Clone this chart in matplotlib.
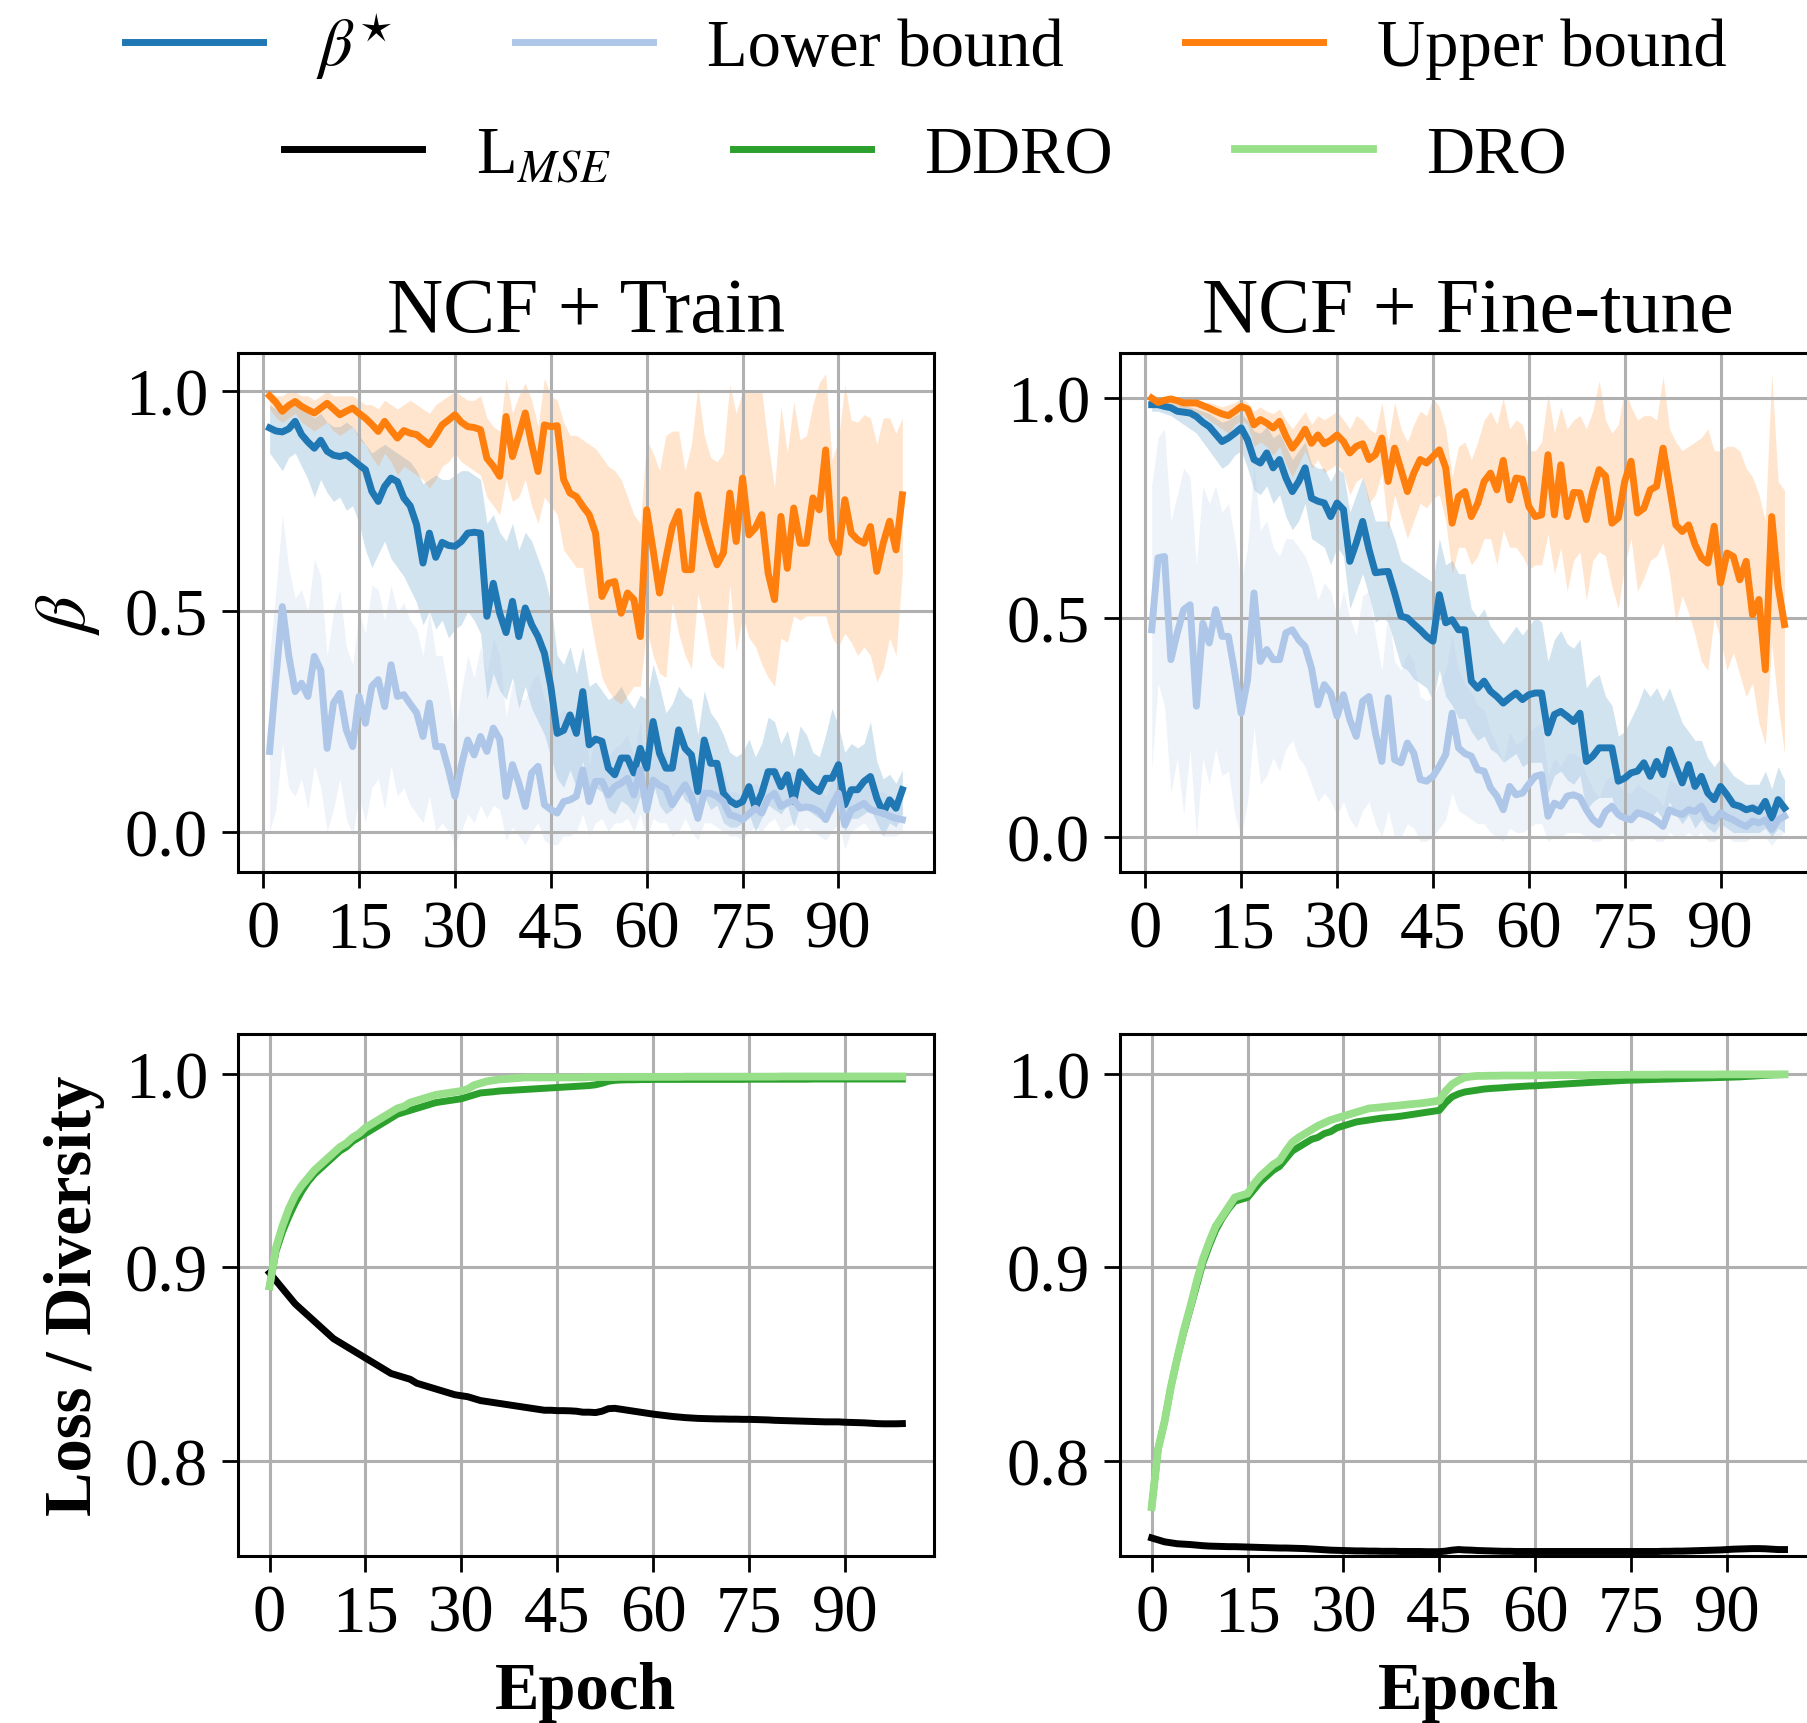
import numpy as np
import matplotlib
matplotlib.use("Agg")
import matplotlib.pyplot as plt

plt.rcParams['font.family'] = ['Liberation Serif', 'DejaVu Serif']
plt.rcParams['mathtext.fontset'] = 'stix'

# ---------------- data ----------------
epochs_top = np.arange(1, 101)
epochs_bot = np.arange(0, 100)

# NCF + Train, beta* / lower bound / upper bound (mean, band low, band high)
tl_beta = [0.917, 0.910, 0.908, 0.915, 0.932, 0.902, 0.885, 0.871, 0.889, 0.864,
           0.855, 0.852, 0.856, 0.845, 0.833, 0.822, 0.773, 0.750, 0.784, 0.803,
           0.795, 0.758, 0.740, 0.697, 0.610, 0.678, 0.623, 0.657, 0.650, 0.648,
           0.659, 0.678, 0.680, 0.678, 0.489, 0.564, 0.496, 0.452, 0.523, 0.443,
           0.508, 0.470, 0.443, 0.405, 0.330, 0.223, 0.230, 0.265, 0.223, 0.318,
           0.197, 0.210, 0.205, 0.144, 0.129, 0.167, 0.167, 0.133, 0.189, 0.144,
           0.250, 0.178, 0.144, 0.144, 0.231, 0.189, 0.174, 0.091, 0.208, 0.155,
           0.155, 0.087, 0.070, 0.061, 0.068, 0.102, 0.053, 0.087, 0.136, 0.136,
           0.102, 0.129, 0.068, 0.136, 0.117, 0.100, 0.091, 0.121, 0.121, 0.152,
           0.061, 0.095, 0.095, 0.114, 0.125, 0.076, 0.042, 0.072, 0.053, 0.095]
tl_beta_lo = [0.86, 0.84, 0.82, 0.85, 0.86, 0.83, 0.80, 0.76, 0.80, 0.77,
              0.75, 0.76, 0.73, 0.74, 0.70, 0.64, 0.60, 0.63, 0.66, 0.62,
              0.60, 0.58, 0.55, 0.52, 0.47, 0.50, 0.46, 0.48, 0.44, 0.46,
              0.47, 0.50, 0.48, 0.45, 0.30, 0.36, 0.32, 0.30, 0.35, 0.28,
              0.33, 0.28, 0.25, 0.22, 0.17, 0.12, 0.10, 0.14, 0.10, 0.16,
              0.08, 0.10, 0.09, 0.05, 0.04, 0.07, 0.06, 0.04, 0.08, 0.05,
              0.11, 0.06, 0.04, 0.05, 0.10, 0.07, 0.06, 0.02, 0.08, 0.05,
              0.06, 0.02, 0.01, 0.01, 0.02, 0.04, 0.00, 0.03, 0.06, 0.05,
              0.04, 0.06, 0.01, 0.06, 0.05, 0.04, 0.03, 0.05, 0.04, 0.07,
              0.00, 0.03, 0.03, 0.04, 0.05, 0.02, -0.01, 0.02, 0.01, 0.04]
tl_beta_hi = [0.97, 0.96, 0.97, 0.97, 0.98, 0.96, 0.95, 0.94, 0.95, 0.93,
              0.92, 0.92, 0.93, 0.92, 0.90, 0.88, 0.86, 0.87, 0.88, 0.87,
              0.86, 0.85, 0.84, 0.82, 0.79, 0.80, 0.81, 0.80, 0.80, 0.81,
              0.82, 0.82, 0.81, 0.80, 0.70, 0.72, 0.68, 0.66, 0.70, 0.64,
              0.68, 0.66, 0.62, 0.58, 0.52, 0.40, 0.38, 0.42, 0.36, 0.42,
              0.33, 0.34, 0.32, 0.30, 0.31, 0.33, 0.30, 0.28, 0.31, 0.30,
              0.38, 0.33, 0.27, 0.29, 0.33, 0.31, 0.30, 0.22, 0.32, 0.27,
              0.25, 0.22, 0.18, 0.17, 0.18, 0.21, 0.17, 0.20, 0.26, 0.25,
              0.20, 0.23, 0.17, 0.24, 0.22, 0.18, 0.17, 0.22, 0.28, 0.24,
              0.18, 0.20, 0.19, 0.20, 0.25, 0.16, 0.12, 0.13, 0.11, 0.14]

tl_low = [0.182, 0.350, 0.511, 0.400, 0.318, 0.337, 0.307, 0.398, 0.367, 0.189,
          0.292, 0.314, 0.231, 0.193, 0.307, 0.246, 0.330, 0.345, 0.284, 0.379,
          0.307, 0.311, 0.290, 0.270, 0.216, 0.292, 0.193, 0.193, 0.140, 0.080,
          0.150, 0.208, 0.174, 0.216, 0.182, 0.235, 0.210, 0.080, 0.152, 0.110,
          0.057, 0.133, 0.148, 0.061, 0.050, 0.042, 0.068, 0.072, 0.080, 0.140,
          0.068, 0.114, 0.114, 0.083, 0.102, 0.110, 0.121, 0.083, 0.140, 0.049,
          0.117, 0.105, 0.098, 0.061, 0.085, 0.106, 0.080, 0.030, 0.087, 0.087,
          0.080, 0.068, 0.038, 0.034, 0.027, 0.040, 0.053, 0.042, 0.076, 0.087,
          0.057, 0.065, 0.072, 0.053, 0.056, 0.053, 0.045, 0.027, 0.060, 0.087,
          0.015, 0.049, 0.056, 0.064, 0.050, 0.045, 0.042, 0.035, 0.030, 0.027]
tl_low_lo = [0.00, 0.05, 0.20, 0.10, 0.08, 0.12, 0.05, 0.15, 0.10, 0.00,
             0.05, 0.12, 0.03, -0.01, 0.08, 0.02, 0.10, 0.12, 0.05, 0.15,
             0.08, 0.10, 0.06, 0.04, 0.02, 0.08, 0.00, 0.02, 0.00, -0.03,
             0.00, 0.04, 0.02, 0.06, 0.03, 0.06, 0.05, -0.02, 0.01, -0.01,
             -0.03, 0.00, 0.02, -0.02, -0.03, -0.03, -0.01, -0.01, 0.00, 0.04,
             -0.01, 0.02, 0.03, 0.00, 0.02, 0.02, 0.03, 0.00, 0.04, -0.02,
             0.03, 0.02, 0.02, -0.01, 0.00, 0.03, 0.00, -0.02, 0.02, 0.02,
             0.01, 0.00, -0.01, -0.01, -0.02, 0.00, 0.01, 0.00, 0.02, 0.03,
             0.00, 0.01, 0.02, 0.00, 0.01, 0.00, -0.01, -0.02, 0.00, 0.02,
             -0.04, 0.00, 0.01, 0.02, 0.00, 0.00, -0.01, -0.01, -0.01, 0.00]
tl_low_hi = [0.40, 0.55, 0.72, 0.60, 0.53, 0.55, 0.50, 0.62, 0.58, 0.40,
             0.50, 0.55, 0.42, 0.38, 0.50, 0.45, 0.56, 0.55, 0.48, 0.56,
             0.50, 0.52, 0.48, 0.46, 0.40, 0.50, 0.40, 0.40, 0.32, 0.22,
             0.32, 0.40, 0.35, 0.42, 0.36, 0.44, 0.40, 0.26, 0.34, 0.30,
             0.30, 0.34, 0.36, 0.30, 0.28, 0.26, 0.28, 0.26, 0.25, 0.30,
             0.15, 0.22, 0.21, 0.17, 0.19, 0.20, 0.22, 0.17, 0.25, 0.12,
             0.21, 0.19, 0.18, 0.14, 0.17, 0.19, 0.16, 0.09, 0.16, 0.16,
             0.15, 0.14, 0.09, 0.09, 0.08, 0.10, 0.11, 0.10, 0.14, 0.15,
             0.12, 0.13, 0.14, 0.11, 0.11, 0.11, 0.10, 0.08, 0.12, 0.16,
             0.06, 0.11, 0.11, 0.12, 0.10, 0.09, 0.09, 0.08, 0.07, 0.06]

tl_up = [0.990, 0.975, 0.955, 0.968, 0.977, 0.966, 0.958, 0.951, 0.962, 0.973,
         0.960, 0.947, 0.955, 0.962, 0.950, 0.939, 0.925, 0.909, 0.932, 0.912,
         0.894, 0.911, 0.905, 0.902, 0.890, 0.879, 0.900, 0.924, 0.935, 0.947,
         0.930, 0.920, 0.918, 0.913, 0.848, 0.830, 0.807, 0.943, 0.852, 0.900,
         0.951, 0.880, 0.818, 0.924, 0.920, 0.922, 0.800, 0.769, 0.761, 0.739,
         0.720, 0.678, 0.534, 0.564, 0.568, 0.496, 0.542, 0.527, 0.443, 0.731,
         0.640, 0.542, 0.620, 0.693, 0.727, 0.595, 0.595, 0.765, 0.700, 0.650,
         0.606, 0.633, 0.769, 0.659, 0.803, 0.674, 0.690, 0.720, 0.587, 0.527,
         0.716, 0.598, 0.735, 0.655, 0.655, 0.758, 0.731, 0.867, 0.663, 0.633,
         0.754, 0.678, 0.663, 0.655, 0.693, 0.591, 0.655, 0.705, 0.640, 0.765]
tl_up_lo = [0.96, 0.94, 0.93, 0.94, 0.95, 0.93, 0.92, 0.91, 0.92, 0.93,
            0.91, 0.90, 0.91, 0.92, 0.89, 0.88, 0.85, 0.83, 0.86, 0.84,
            0.81, 0.83, 0.82, 0.81, 0.80, 0.78, 0.80, 0.83, 0.84, 0.86,
            0.84, 0.83, 0.82, 0.81, 0.76, 0.74, 0.72, 0.80, 0.75, 0.76,
            0.80, 0.74, 0.70, 0.76, 0.74, 0.72, 0.64, 0.62, 0.60, 0.60,
            0.50, 0.42, 0.35, 0.32, 0.30, 0.29, 0.31, 0.33, 0.33, 0.46,
            0.40, 0.36, 0.35, 0.52, 0.45, 0.40, 0.37, 0.54, 0.48, 0.40,
            0.38, 0.37, 0.56, 0.41, 0.49, 0.44, 0.42, 0.38, 0.35, 0.33,
            0.44, 0.43, 0.49, 0.48, 0.49, 0.49, 0.49, 0.49, 0.44, 0.42,
            0.45, 0.43, 0.40, 0.42, 0.40, 0.34, 0.37, 0.44, 0.40, 0.59]
tl_up_hi = [1.00, 0.99, 0.99, 1.00, 1.00, 0.99, 0.99, 0.98, 0.99, 1.00,
            0.99, 0.99, 0.99, 0.99, 0.98, 0.97, 0.97, 0.96, 0.98, 0.97,
            0.96, 0.97, 0.98, 0.97, 0.96, 0.95, 0.97, 0.98, 0.99, 1.00,
            0.99, 0.98, 0.98, 0.99, 0.94, 0.92, 0.91, 1.03, 0.95, 0.99,
            1.02, 0.98, 0.92, 1.03, 0.99, 0.98, 0.93, 0.90, 0.90, 0.89,
            0.88, 0.87, 0.85, 0.83, 0.82, 0.80, 0.76, 0.72, 0.70, 0.89,
            0.86, 0.82, 0.90, 0.91, 0.91, 0.82, 0.88, 1.01, 0.90, 0.85,
            0.84, 0.86, 1.015, 0.95, 1.00, 1.00, 1.00, 1.00, 0.88, 0.78,
            0.966, 0.86, 0.977, 0.89, 0.90, 0.97, 1.02, 1.04, 0.845, 0.89,
            1.015, 0.935, 0.93, 0.947, 0.94, 0.88, 0.94, 0.94, 0.905, 0.94]

# NCF + Fine-tune
tr_beta = [0.985, 0.985, 0.981, 0.978, 0.970, 0.968, 0.966, 0.958, 0.945, 0.935,
           0.918, 0.901, 0.909, 0.920, 0.932, 0.905, 0.860, 0.852, 0.875, 0.841,
           0.860, 0.818, 0.787, 0.810, 0.841, 0.772, 0.765, 0.761, 0.730, 0.761,
           0.746, 0.628, 0.670, 0.719, 0.655, 0.602, 0.604, 0.605, 0.556, 0.503,
           0.499, 0.485, 0.472, 0.457, 0.446, 0.552, 0.488, 0.495, 0.472, 0.472,
           0.355, 0.339, 0.355, 0.332, 0.320, 0.305, 0.317, 0.328, 0.313, 0.324,
           0.328, 0.328, 0.237, 0.279, 0.286, 0.275, 0.263, 0.282, 0.172, 0.184,
           0.203, 0.203, 0.203, 0.127, 0.134, 0.146, 0.150, 0.169, 0.138, 0.172,
           0.142, 0.199, 0.161, 0.123, 0.165, 0.115, 0.138, 0.100, 0.085, 0.115,
           0.096, 0.074, 0.070, 0.062, 0.066, 0.058, 0.081, 0.043, 0.085, 0.066]
tr_beta_lo = [0.97, 0.97, 0.965, 0.96, 0.95, 0.94, 0.93, 0.92, 0.90, 0.88,
              0.86, 0.84, 0.85, 0.87, 0.88, 0.84, 0.79, 0.78, 0.80, 0.76,
              0.78, 0.73, 0.70, 0.72, 0.76, 0.68, 0.67, 0.66, 0.62, 0.66,
              0.64, 0.52, 0.56, 0.60, 0.55, 0.49, 0.50, 0.49, 0.44, 0.39,
              0.38, 0.36, 0.35, 0.34, 0.31, 0.38, 0.32, 0.30, 0.27, 0.27,
              0.24, 0.22, 0.23, 0.20, 0.19, 0.17, 0.18, 0.19, 0.16, 0.17,
              0.17, 0.17, 0.10, 0.14, 0.15, 0.13, 0.12, 0.14, 0.06, 0.08,
              0.09, 0.09, 0.09, 0.04, 0.04, 0.05, 0.05, 0.06, 0.04, 0.06,
              0.04, 0.08, 0.05, 0.03, 0.05, 0.02, 0.04, 0.02, 0.01, 0.03,
              0.02, 0.01, 0.01, 0.01, 0.01, 0.01, 0.02, 0.00, 0.02, 0.01]
tr_beta_hi = [0.995, 0.995, 0.99, 0.99, 0.985, 0.985, 0.98, 0.975, 0.97, 0.965,
              0.955, 0.945, 0.95, 0.96, 0.965, 0.95, 0.925, 0.92, 0.935, 0.91,
              0.92, 0.89, 0.86, 0.88, 0.90, 0.85, 0.84, 0.84, 0.81, 0.84,
              0.83, 0.74, 0.78, 0.82, 0.77, 0.72, 0.72, 0.72, 0.68, 0.63,
              0.62, 0.61, 0.60, 0.59, 0.58, 0.68, 0.62, 0.63, 0.60, 0.60,
              0.52, 0.50, 0.52, 0.48, 0.46, 0.44, 0.46, 0.48, 0.46, 0.48,
              0.50, 0.49, 0.40, 0.45, 0.47, 0.44, 0.43, 0.45, 0.34, 0.36,
              0.37, 0.32, 0.30, 0.23, 0.24, 0.27, 0.30, 0.34, 0.32, 0.34,
              0.31, 0.34, 0.30, 0.26, 0.24, 0.22, 0.22, 0.18, 0.16, 0.18,
              0.16, 0.14, 0.13, 0.12, 0.12, 0.12, 0.15, 0.11, 0.16, 0.13]

tr_low = [0.472, 0.636, 0.639, 0.404, 0.465, 0.518, 0.529, 0.298, 0.487, 0.442,
          0.518, 0.457, 0.457, 0.374, 0.282, 0.358, 0.556, 0.400, 0.427, 0.404,
          0.404, 0.465, 0.472, 0.449, 0.434, 0.385, 0.301, 0.347, 0.328, 0.275,
          0.324, 0.267, 0.229, 0.309, 0.320, 0.237, 0.172, 0.317, 0.176, 0.169,
          0.214, 0.191, 0.131, 0.127, 0.138, 0.161, 0.188, 0.282, 0.203, 0.190,
          0.184, 0.153, 0.150, 0.112, 0.093, 0.062, 0.115, 0.096, 0.100, 0.120,
          0.138, 0.142, 0.047, 0.077, 0.070, 0.093, 0.096, 0.090, 0.062, 0.040,
          0.028, 0.058, 0.070, 0.051, 0.043, 0.039, 0.055, 0.051, 0.045, 0.036,
          0.024, 0.062, 0.055, 0.051, 0.062, 0.058, 0.070, 0.043, 0.036, 0.055,
          0.045, 0.039, 0.030, 0.024, 0.036, 0.032, 0.039, 0.017, 0.039, 0.047]
tr_low_lo = [0.15, 0.35, 0.30, 0.10, 0.18, 0.05, 0.20, 0.00, 0.18, 0.12,
             0.20, 0.14, 0.15, 0.05, 0.00, 0.08, 0.25, 0.12, 0.14, 0.18,
             0.15, 0.20, 0.22, 0.18, 0.16, 0.12, 0.08, 0.10, 0.08, 0.05,
             0.08, 0.04, 0.02, 0.06, 0.08, 0.03, 0.00, 0.06, 0.00, 0.00,
             0.03, 0.02, -0.01, -0.01, 0.00, 0.02, 0.04, 0.10, 0.06, 0.05,
             0.04, 0.03, 0.03, 0.01, 0.00, -0.01, 0.02, 0.01, 0.01, 0.02,
             0.03, 0.03, -0.01, 0.00, 0.00, 0.01, 0.01, 0.01, 0.00, -0.01,
             -0.01, 0.00, 0.01, 0.00, 0.00, -0.01, 0.00, 0.00, 0.00, -0.01,
             -0.01, 0.01, 0.00, 0.00, 0.01, 0.00, 0.01, -0.01, -0.01, 0.00,
             0.00, -0.01, -0.01, -0.01, 0.00, 0.00, 0.00, -0.02, 0.00, 0.01]
tr_low_hi = [0.80, 0.91, 0.93, 0.72, 0.78, 0.84, 0.82, 0.62, 0.80, 0.76,
             0.80, 0.74, 0.76, 0.68, 0.58, 0.66, 0.85, 0.70, 0.72, 0.66,
             0.64, 0.68, 0.68, 0.66, 0.64, 0.60, 0.54, 0.58, 0.56, 0.50,
             0.56, 0.50, 0.46, 0.55, 0.56, 0.46, 0.38, 0.52, 0.40, 0.38,
             0.42, 0.40, 0.32, 0.31, 0.32, 0.35, 0.38, 0.46, 0.38, 0.35,
             0.33, 0.30, 0.29, 0.24, 0.21, 0.17, 0.24, 0.21, 0.22, 0.24,
             0.25, 0.26, 0.14, 0.18, 0.16, 0.19, 0.19, 0.18, 0.14, 0.11,
             0.09, 0.13, 0.14, 0.12, 0.10, 0.10, 0.12, 0.11, 0.10, 0.09,
             0.07, 0.13, 0.12, 0.11, 0.12, 0.12, 0.13, 0.10, 0.09, 0.11,
             0.10, 0.09, 0.08, 0.07, 0.08, 0.08, 0.09, 0.06, 0.09, 0.10]

tr_up = [1.000, 0.990, 0.995, 0.998, 0.994, 0.989, 0.989, 0.989, 0.983, 0.977,
         0.970, 0.964, 0.960, 0.970, 0.981, 0.975, 0.939, 0.951, 0.943, 0.932,
         0.947, 0.913, 0.886, 0.905, 0.929, 0.897, 0.916, 0.896, 0.904, 0.916,
         0.901, 0.875, 0.890, 0.896, 0.860, 0.871, 0.909, 0.810, 0.886, 0.837,
         0.787, 0.829, 0.860, 0.852, 0.867, 0.882, 0.841, 0.715, 0.776, 0.787,
         0.730, 0.760, 0.810, 0.829, 0.791, 0.858, 0.768, 0.818, 0.815, 0.753,
         0.730, 0.734, 0.871, 0.734, 0.848, 0.730, 0.785, 0.784, 0.723, 0.787,
         0.837, 0.822, 0.715, 0.727, 0.810, 0.856, 0.738, 0.749, 0.791, 0.799,
         0.886, 0.799, 0.711, 0.696, 0.711, 0.666, 0.636, 0.624, 0.708, 0.579,
         0.647, 0.639, 0.586, 0.628, 0.506, 0.541, 0.381, 0.730, 0.571, 0.484]
tr_up_lo = [0.99, 0.98, 0.98, 0.985, 0.98, 0.975, 0.97, 0.965, 0.96, 0.95,
            0.94, 0.93, 0.92, 0.94, 0.95, 0.94, 0.89, 0.90, 0.89, 0.87,
            0.89, 0.85, 0.82, 0.85, 0.88, 0.84, 0.86, 0.83, 0.84, 0.85,
            0.83, 0.78, 0.81, 0.82, 0.76, 0.78, 0.83, 0.70, 0.78, 0.73,
            0.68, 0.72, 0.76, 0.75, 0.77, 0.78, 0.72, 0.60, 0.66, 0.66,
            0.62, 0.64, 0.68, 0.68, 0.62, 0.70, 0.66, 0.66, 0.64, 0.61,
            0.62, 0.62, 0.69, 0.60, 0.66, 0.56, 0.63, 0.65, 0.54, 0.63,
            0.65, 0.64, 0.57, 0.52, 0.62, 0.68, 0.56, 0.59, 0.63, 0.64,
            0.67, 0.60, 0.49, 0.55, 0.51, 0.46, 0.40, 0.38, 0.50, 0.45,
            0.38, 0.42, 0.37, 0.32, 0.35, 0.26, 0.21, 0.44, 0.30, 0.19]
tr_up_hi = [1.005, 1.0, 1.0, 1.005, 1.0, 0.995, 0.995, 0.995, 0.99, 0.99,
            0.985, 0.98, 0.985, 0.99, 1.0, 0.99, 0.97, 0.98, 0.97, 0.965,
            0.975, 0.95, 0.93, 0.95, 0.97, 0.94, 0.96, 0.95, 0.96, 0.97,
            0.95, 0.93, 0.96, 0.95, 0.93, 0.92, 0.99, 0.90, 0.99, 0.93,
            0.90, 0.94, 0.97, 0.96, 1.0, 0.98, 0.93, 0.82, 0.89, 0.90,
            0.86, 0.90, 0.95, 0.97, 0.94, 1.00, 0.93, 0.95, 0.94, 0.88,
            0.88, 0.90, 1.01, 0.92, 0.98, 0.93, 0.95, 0.96, 0.93, 0.97,
            1.04, 0.95, 0.92, 0.94, 1.02, 0.98, 0.95, 0.96, 0.96, 0.95,
            1.05, 0.93, 0.90, 0.88, 0.89, 0.90, 0.91, 0.93, 0.88, 0.88,
            0.89, 0.89, 0.88, 0.84, 0.82, 0.78, 0.72, 1.057, 0.81, 0.79]

# Loss / diversity curves
bl_mse = [0.897, 0.893, 0.889, 0.885, 0.881, 0.878, 0.875, 0.872, 0.869, 0.866,
          0.863, 0.861, 0.859, 0.857, 0.855, 0.853, 0.851, 0.849, 0.847, 0.845,
          0.844, 0.843, 0.842, 0.840, 0.839, 0.838, 0.837, 0.836, 0.835, 0.834,
          0.8335, 0.833, 0.832, 0.831, 0.8305, 0.830, 0.8295, 0.829, 0.8285, 0.828,
          0.8275, 0.827, 0.8265, 0.826, 0.826, 0.8258, 0.8258, 0.8257, 0.8255, 0.825,
          0.825, 0.8248, 0.8255, 0.8268, 0.827, 0.8265, 0.826, 0.8255, 0.825, 0.8245,
          0.824, 0.8236, 0.8232, 0.8228, 0.8225, 0.8222, 0.822, 0.8218, 0.8217, 0.8216,
          0.8215, 0.8215, 0.8214, 0.8214, 0.8213, 0.8213, 0.8212, 0.8211, 0.821, 0.8208,
          0.8207, 0.8206, 0.8205, 0.8204, 0.8203, 0.8202, 0.8201, 0.820, 0.820, 0.820,
          0.8198, 0.8197, 0.8196, 0.8195, 0.8193, 0.8191, 0.819, 0.819, 0.819, 0.8191]
bl_ddro = [0.890, 0.908, 0.918, 0.926, 0.933, 0.939, 0.944, 0.948, 0.951, 0.954,
           0.957, 0.960, 0.962, 0.965, 0.967, 0.969, 0.971, 0.973, 0.975, 0.977,
           0.979, 0.980, 0.981, 0.982, 0.983, 0.984, 0.985, 0.9855, 0.986, 0.9865,
           0.987, 0.988, 0.989, 0.990, 0.9903, 0.9906, 0.991, 0.9912, 0.9914, 0.9916,
           0.9918, 0.992, 0.9922, 0.9924, 0.9926, 0.9928, 0.993, 0.9932, 0.9934, 0.9936,
           0.9938, 0.9942, 0.995, 0.996, 0.9965, 0.9967, 0.9968, 0.9968, 0.9969, 0.9969,
           0.997, 0.997, 0.997, 0.997, 0.997, 0.997, 0.997, 0.997, 0.997, 0.997,
           0.997, 0.997, 0.997, 0.997, 0.997, 0.9971, 0.9971, 0.9971, 0.9971, 0.9971,
           0.9971, 0.9971, 0.9971, 0.9971, 0.9971, 0.9972, 0.9972, 0.9972, 0.9972, 0.9972,
           0.9972, 0.9972, 0.9972, 0.9972, 0.9972, 0.9972, 0.9972, 0.9972, 0.9972, 0.9972]
bl_dro = [0.890, 0.910, 0.921, 0.930, 0.937, 0.942, 0.946, 0.950, 0.953, 0.956,
          0.959, 0.962, 0.964, 0.967, 0.969, 0.972, 0.974, 0.976, 0.978, 0.980,
          0.982, 0.983, 0.985, 0.986, 0.987, 0.988, 0.989, 0.9895, 0.990, 0.9905,
          0.991, 0.992, 0.994, 0.995, 0.996, 0.9965, 0.997, 0.9972, 0.9975, 0.9977,
          0.998, 0.998, 0.998, 0.998, 0.998, 0.998, 0.998, 0.998, 0.998, 0.998,
          0.9982, 0.9982, 0.9982, 0.9982, 0.9982, 0.9983, 0.9983, 0.9983, 0.9983, 0.9983,
          0.9983, 0.9983, 0.9983, 0.9983, 0.9983, 0.9984, 0.9984, 0.9984, 0.9984, 0.9984,
          0.9984, 0.9984, 0.9984, 0.9984, 0.9984, 0.9984, 0.9984, 0.9984, 0.9984, 0.9984,
          0.9985, 0.9985, 0.9985, 0.9985, 0.9985, 0.9985, 0.9985, 0.9985, 0.9985, 0.9985,
          0.9985, 0.9985, 0.9985, 0.9985, 0.9985, 0.9985, 0.9985, 0.9985, 0.9985, 0.9985]

br_mse = [0.760, 0.759, 0.758, 0.7575, 0.757, 0.7568, 0.7566, 0.7563, 0.756, 0.7558,
          0.7557, 0.7556, 0.7555, 0.7555, 0.7554, 0.7553, 0.7552, 0.7551, 0.755, 0.7549,
          0.7548, 0.7548, 0.7547, 0.7546, 0.7545, 0.7543, 0.7541, 0.7539, 0.7537, 0.7536,
          0.7535, 0.7534, 0.7533, 0.7533, 0.7532, 0.7532, 0.7531, 0.7531, 0.7531, 0.753,
          0.753, 0.753, 0.753, 0.7529, 0.7529, 0.7529, 0.7532, 0.7537, 0.754, 0.7538,
          0.7537, 0.7535, 0.7534, 0.7533, 0.7532, 0.7531, 0.7531, 0.753, 0.753, 0.753,
          0.753, 0.753, 0.753, 0.753, 0.753, 0.753, 0.753, 0.753, 0.753, 0.753,
          0.753, 0.753, 0.753, 0.753, 0.753, 0.753, 0.753, 0.753, 0.753, 0.753,
          0.7531, 0.7531, 0.7532, 0.7532, 0.7533, 0.7534, 0.7535, 0.7536, 0.7537, 0.7538,
          0.754, 0.7542, 0.7543, 0.7544, 0.7545, 0.7545, 0.7544, 0.7542, 0.754, 0.754]
br_ddro = [0.776, 0.806, 0.820, 0.838, 0.853, 0.866, 0.878, 0.890, 0.902, 0.911,
           0.919, 0.925, 0.930, 0.934, 0.935, 0.936, 0.940, 0.944, 0.947, 0.950,
           0.952, 0.956, 0.960, 0.962, 0.964, 0.966, 0.967, 0.969, 0.970, 0.972,
           0.973, 0.974, 0.975, 0.9755, 0.976, 0.9765, 0.977, 0.9773, 0.9776, 0.978,
           0.9785, 0.979, 0.9795, 0.980, 0.9805, 0.981, 0.985, 0.988, 0.9895, 0.9905,
           0.991, 0.9915, 0.992, 0.9923, 0.9925, 0.9927, 0.993, 0.9932, 0.9934, 0.9936,
           0.9937, 0.9939, 0.9941, 0.9943, 0.9945, 0.9947, 0.9949, 0.9951, 0.9953, 0.9955,
           0.9957, 0.9959, 0.9961, 0.9963, 0.9965, 0.9966, 0.9967, 0.9968, 0.9969, 0.997,
           0.9971, 0.9972, 0.9973, 0.9974, 0.9975, 0.9976, 0.9977, 0.9978, 0.9979, 0.998,
           0.9981, 0.9982, 0.9983, 0.9985, 0.9987, 0.9989, 0.9991, 0.9993, 0.9994, 0.9995]
br_dro = [0.776, 0.806, 0.820, 0.838, 0.853, 0.867, 0.879, 0.892, 0.904, 0.913,
          0.921, 0.926, 0.931, 0.936, 0.937, 0.938, 0.943, 0.947, 0.950, 0.953,
          0.955, 0.960, 0.9645, 0.967, 0.969, 0.971, 0.973, 0.9745, 0.976, 0.977,
          0.978, 0.979, 0.980, 0.981, 0.982, 0.9823, 0.9826, 0.983, 0.9833, 0.9836,
          0.984, 0.9843, 0.9846, 0.985, 0.9855, 0.986, 0.991, 0.9945, 0.9965, 0.998,
          0.9985, 0.9988, 0.9988, 0.9989, 0.9989, 0.999, 0.999, 0.999, 0.999, 0.999,
          0.9991, 0.9991, 0.9991, 0.9991, 0.9992, 0.9992, 0.9992, 0.9992, 0.9992, 0.9993,
          0.9993, 0.9993, 0.9993, 0.9993, 0.9994, 0.9994, 0.9994, 0.9994, 0.9994, 0.9994,
          0.9995, 0.9995, 0.9995, 0.9995, 0.9995, 0.9995, 0.9995, 0.9995, 0.9995, 0.9996,
          0.9996, 0.9996, 0.9996, 0.9996, 0.9996, 0.9996, 0.9996, 0.9996, 0.9996, 0.9996]

titles = ["NCF + Train", "NCF + Fine-tune"]
xticks = [0, 15, 30, 45, 60, 75, 90]

C_BETA = '#1f77b4'
C_LOW = '#aec7e8'
C_UP = '#ff7f0e'
C_DDRO = '#2ca02c'
C_DRO = '#98df8a'

# ---------------- figure ----------------
fig = plt.figure(figsize=(9.04, 8.62), dpi=200)
ax_tl = fig.add_axes([0.1316, 0.4936, 0.3850, 0.3010])
ax_tr = fig.add_axes([0.6195, 0.4936, 0.3850, 0.3010])
ax_bl = fig.add_axes([0.1316, 0.0969, 0.3850, 0.3028])
ax_br = fig.add_axes([0.6195, 0.0969, 0.3850, 0.3028])

LW = 2.5
top_sets = [
    (ax_tl, tl_beta, tl_beta_lo, tl_beta_hi, tl_low, tl_low_lo, tl_low_hi, tl_up, tl_up_lo, tl_up_hi),
    (ax_tr, tr_beta, tr_beta_lo, tr_beta_hi, tr_low, tr_low_lo, tr_low_hi, tr_up, tr_up_lo, tr_up_hi),
]
top_handles = []
for ax, b, blo, bhi, lo, lolo, lohi, up, uplo, uphi in top_sets:
    ax.fill_between(epochs_top, blo, bhi, color=C_BETA, alpha=0.2, lw=0)
    ax.fill_between(epochs_top, lolo, lohi, color=C_LOW, alpha=0.2, lw=0)
    ax.fill_between(epochs_top, uplo, uphi, color=C_UP, alpha=0.2, lw=0)
    h1, = ax.plot(epochs_top, b, color=C_BETA, lw=LW)
    h2, = ax.plot(epochs_top, lo, color=C_LOW, lw=LW)
    h3, = ax.plot(epochs_top, up, color=C_UP, lw=LW)
    top_handles = [h1, h2, h3]
    ax.set_xlim(-3.95, 104.95)

ax_tl.set_ylim(-0.092, 1.087)
ax_tr.set_ylim(-0.080, 1.1025)
for ax in (ax_tl, ax_tr):
    ax.set_yticks([0.0, 0.5, 1.0])

bot_handles = []
for ax, m, d1, d2 in [(ax_bl, bl_mse, bl_ddro, bl_dro), (ax_br, br_mse, br_ddro, br_dro)]:
    h1, = ax.plot(epochs_bot, m, color='black', lw=LW)
    h2, = ax.plot(epochs_bot, d1, color=C_DDRO, lw=LW)
    h3, = ax.plot(epochs_bot, d2, color=C_DRO, lw=LW + 0.3)
    bot_handles = [h1, h2, h3]
    ax.set_xlim(-4.95, 103.95)
    ax.set_ylim(0.7507, 1.0205)
    ax.set_yticks([0.8, 0.9, 1.0])
    ax.set_xlabel('Epoch', fontsize=24, fontweight='bold', labelpad=6)

for ax in (ax_tl, ax_tr, ax_bl, ax_br):
    ax.set_xticks(xticks)
    ax.grid(True, color='#b0b0b0', lw=1.1)
    ax.tick_params(direction='out', length=5.8, width=1.0, labelsize=24, pad=4)
    ax.tick_params(axis='y', pad=5)
    for sp in ax.spines.values():
        sp.set_linewidth(1.1)

ax_tl.set_title(titles[0], fontsize=28, pad=8)
ax_tr.set_title(titles[1], fontsize=28, pad=8)
ax_tl.set_ylabel(r'$\beta$', fontsize=26, labelpad=8)
ax_bl.set_ylabel('Loss / Diversity', fontsize=24, fontweight='bold', labelpad=7)

leg_kw = dict(loc='center', ncol=3, frameon=False, fontsize=24,
              handlelength=2.07, handletextpad=0.8, columnspacing=1.83)
fig.legend(top_handles, [r'$\beta^{\star}$', 'Lower bound', 'Upper bound'],
           bbox_to_anchor=(0.512, 0.9727), **leg_kw)
fig.legend(bot_handles, [r'L$_{MSE}$', 'DDRO', 'DRO'],
           bbox_to_anchor=(0.512, 0.909), **leg_kw)

fig.savefig('out.png', dpi=200)
